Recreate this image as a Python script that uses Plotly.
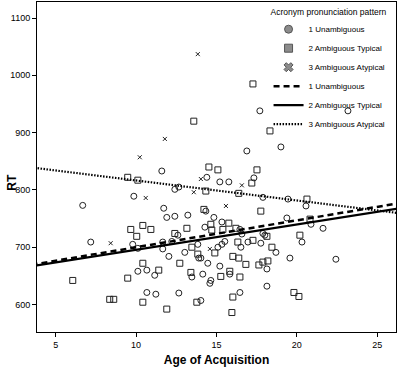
import plotly.graph_objects as go

# ---- data (Age of Acquisition, RT) ----
unamb_age = [6.68, 7.18, 9.79, 10.11, 9.86, 11.60, 12.41, 12.66, 11.72, 11.91,
             12.41, 13.22, 11.66, 11.66, 12.22, 12.60, 12.04, 13.03, 10.11, 10.67,
             11.16, 10.67, 11.23, 12.66, 13.47, 13.84, 13.90, 16.89, 19.01, 17.70,
             23.18, 14.40, 15.21, 15.77, 17.33, 17.89, 19.45, 20.57, 14.84, 15.34,
             14.28, 16.46, 19.38, 20.88, 21.63, 20.32, 15.09, 15.34, 15.52, 16.52,
             16.96, 17.76, 18.01, 18.70, 19.57, 14.03, 14.46, 15.21, 18.14, 14.15,
             15.83, 14.65, 14.59, 18.14, 16.46, 14.03, 22.43, 16.58, 17.89, 14.34]
unamb_rt = [773, 709, 705, 698, 789, 833, 801, 805, 768, 752,
            754, 756, 709, 697, 710, 721, 684, 691, 658, 660,
            651, 621, 618, 620, 648, 705, 681, 868, 875, 938,
            938, 822, 814, 814, 821, 787, 784, 772, 752, 744,
            735, 731, 751, 740, 733, 709, 700, 705, 710, 700,
            709, 707, 721, 691, 681, 681, 672, 667, 662, 653,
            653, 642, 637, 632, 621, 607, 679, 723, 724, 763]

typ_age = [17.27, 13.59, 18.33, 9.48, 10.11, 14.53, 15.09, 17.52, 17.20, 14.34,
           16.39, 20.63, 14.22, 17.76, 20.82, 20.19, 10.42, 9.67, 10.92, 13.16,
           12.41, 10.04, 12.72, 10.42, 11.41, 9.48, 6.06, 8.36, 8.61, 10.42,
           11.91, 13.47, 13.84, 13.41, 13.78, 14.90, 16.33, 17.27, 18.45, 15.77,
           14.65, 15.40, 16.21, 16.02, 16.39, 16.83, 17.64, 17.89, 18.20, 15.27,
           15.83, 16.46, 16.02, 15.96, 19.82, 20.13, 18.14, 14.71]
typ_rt = [985, 920, 903, 822, 817, 840, 835, 835, 812, 798,
          794, 784, 766, 763, 749, 721, 738, 731, 731, 733,
          724, 719, 672, 672, 660, 646, 642, 609, 609, 604,
          592, 700, 688, 656, 604, 690, 709, 712, 700, 742,
          740, 731, 733, 684, 681, 670, 669, 674, 676, 649,
          658, 648, 613, 586, 621, 614, 719, 730]

atyp_age = [13.84, 11.79, 10.23, 10.60, 8.42, 14.03, 13.59, 16.58, 15.59, 14.59]
atyp_rt = [1037, 889, 857, 786, 707, 819, 796, 808, 772, 697]

# fit lines: intercept, slope
fit_names = ["1 Unambiguous", "2 Ambiguous Typical", "3 Ambiguous Atypical"]
fit_intercept = [652.9, 651.5, 851.4]
fit_slope = [4.70, 4.41, -3.49]
fit_x = [3.5, 26.5]

x_ticks = [5, 10, 15, 20, 25]
y_ticks = [600, 700, 800, 900, 1000, 1100]

FONT = "Liberation Sans, Arial, sans-serif"

fig = go.Figure()

mk_line = dict(color="#222222", width=1)
fig.add_trace(go.Scatter(x=unamb_age, y=unamb_rt, mode="markers", showlegend=False,
                         marker=dict(symbol="circle-open", size=6, line=mk_line, color="#222222")))
fig.add_trace(go.Scatter(x=typ_age, y=typ_rt, mode="markers", showlegend=False,
                         marker=dict(symbol="square-open", size=6, line=mk_line, color="#222222")))
fig.add_trace(go.Scatter(x=atyp_age, y=atyp_rt, mode="markers", showlegend=False,
                         marker=dict(symbol="x-thin-open", size=4, line=mk_line, color="#222222")))

# legend entries for marker groups (grey filled, as in the original)
leg_sym = ["circle", "square", "x"]
for name, sym in zip(fit_names, leg_sym):
    fig.add_trace(go.Scatter(x=[None], y=[None], mode="markers", name=name,
                             marker=dict(symbol=sym, size=8, color="#8c8c8c",
                                         line=dict(color="#555555", width=1))))

dashes = ["6px,4px", "solid", "1.5px,1.5px"]
widths = [2.5, 2.2, 2.2]
for name, b0, b1, d, w in zip(fit_names, fit_intercept, fit_slope, dashes, widths):
    fig.add_trace(go.Scatter(x=fit_x, y=[b0 + b1 * v for v in fit_x], mode="lines",
                             name=name, line=dict(color="black", width=w, dash=d)))

fig.update_layout(
    width=397, height=369,
    margin=dict(l=37, r=1, t=2, b=37),
    paper_bgcolor="white", plot_bgcolor="white",
    font=dict(family=FONT, size=9, color="black"),
    legend=dict(title=dict(text="Acronym pronunciation pattern", font=dict(size=8.5)),
                x=0.645, y=0.995, xanchor="left", yanchor="top",
                bgcolor="rgba(0,0,0,0)", font=dict(size=8), itemwidth=30,
                tracegroupgap=0),
    annotations=[dict(text="<b>RT</b>", textangle=-90, xref="paper", yref="paper",
                      x=-0.07, y=0.455, xanchor="center", yanchor="middle",
                      showarrow=False, font=dict(size=12))],
)
fig.update_xaxes(range=[3.836, 26.17], tickvals=x_ticks, ticks="outside", ticklen=4,
                 tickcolor="black", showline=True, linecolor="black", linewidth=1,
                 mirror=True, showgrid=False, zeroline=False,
                 tickfont=dict(size=9),
                 title=dict(text="<b>Age of Acquisition</b>", font=dict(size=12), standoff=6))
fig.update_yaxes(range=[552, 1128], tickvals=y_ticks, ticks="outside", ticklen=4,
                 tickcolor="black", showline=True, linecolor="black", linewidth=1,
                 mirror=True, showgrid=False, zeroline=False,
                 tickfont=dict(size=9))

fig.write_html("out.html", config={"displayModeBar": False},
               post_script="document.body.style.margin='0';document.body.style.padding='0';")
